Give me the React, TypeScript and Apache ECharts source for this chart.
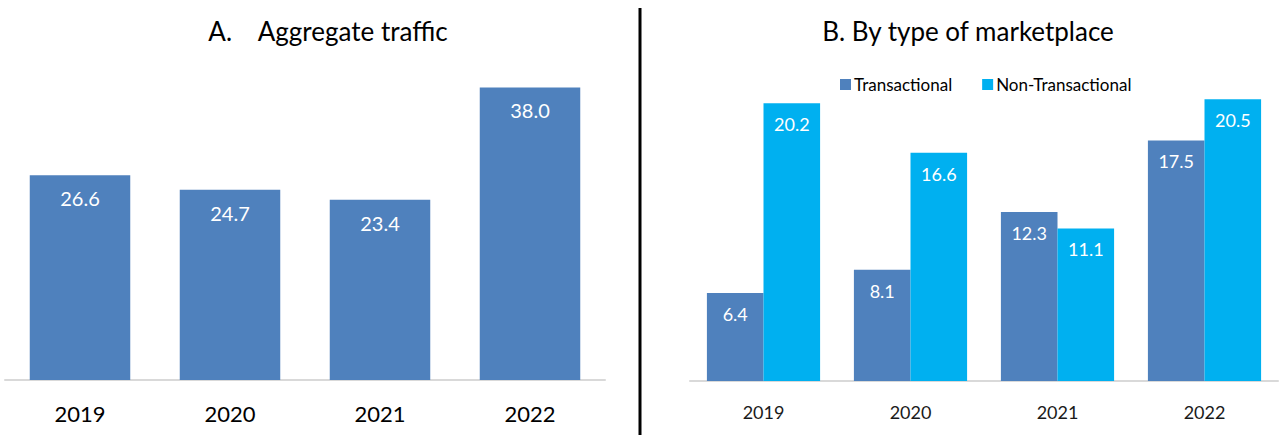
import React, { useEffect, useRef } from "react";
import * as echarts from "echarts";

const years = ["2019", "2020", "2021", "2022"];
const aggregateTraffic = [26.6, 24.7, 23.4, 38.0];
const transactional = [6.4, 8.1, 12.3, 17.5];
const nonTransactional = [20.2, 16.6, 11.1, 20.5];
const titleA = "A.    Aggregate traffic";
const titleB = "B. By type of marketplace";
const seriesNames = ["Transactional", "Non-Transactional"];

const FONT = "Lato, 'Noto Sans', sans-serif";

export default function App() {
  const ref = useRef<HTMLDivElement>(null);
  useEffect(() => {
    if (!ref.current) return;
    const chart = echarts.init(ref.current, null, { renderer: "svg" });
    const fmt = (p: any) => Number(p.value).toFixed(1);
    chart.setOption({
      animation: false,
      textStyle: { fontFamily: FONT },
      title: [
        {
          text: titleA,
          left: 323,
          top: 13,
          textAlign: "center",
          textStyle: { fontFamily: FONT, fontSize: 26, fontWeight: "normal", color: "#000" },
        },
        {
          text: titleB,
          left: 963,
          top: 13,
          textAlign: "center",
          textStyle: { fontFamily: FONT, fontSize: 26, fontWeight: "normal", color: "#000" },
        },
      ],
      legend: {
        data: seriesNames,
        left: 835,
        top: 71,
        icon: "rect",
        itemWidth: 11,
        itemHeight: 11,
        itemGap: 30,
        textStyle: { fontFamily: FONT, fontSize: 17, color: "#000", padding: [0, 0, 0, -2] },
      },
      grid: [
        { left: 5, width: 600, top: 72, bottom: 55 },
        { left: 690, right: 8, top: 37.25, bottom: 54 },
      ],
      xAxis: [
        {
          type: "category",
          gridIndex: 0,
          data: years,
          axisLine: { lineStyle: { color: "#D9D9D9", width: 2 } },
          axisTick: { show: false },
          axisLabel: { fontFamily: FONT, fontSize: 22, color: "#000", margin: 22 },
        },
        {
          type: "category",
          gridIndex: 1,
          data: years,
          axisLine: { lineStyle: { color: "#D9D9D9", width: 2 } },
          axisTick: { show: false },
          axisLabel: { fontFamily: FONT, fontSize: 18, color: "#1a1a1a", margin: 22 },
        },
      ],
      yAxis: [
        { type: "value", gridIndex: 0, min: 0, max: 40, show: false, splitLine: { show: false } },
        { type: "value", gridIndex: 1, min: 0, max: 25, show: false, splitLine: { show: false } },
      ],
      series: [
        {
          type: "bar",
          xAxisIndex: 0,
          yAxisIndex: 0,
          data: aggregateTraffic,
          barCategoryGap: "33%",
          itemStyle: { color: "#4F81BD" },
          label: {
            show: true,
            position: "insideTop",
            distance: 13,
            formatter: fmt,
            color: "#fff",
            fontFamily: FONT,
            fontSize: 20,
          },
        },
        {
          name: seriesNames[0],
          type: "bar",
          xAxisIndex: 1,
          yAxisIndex: 1,
          data: transactional,
          barGap: "0%",
          barCategoryGap: "23%",
          itemStyle: { color: "#4F81BD" },
          label: {
            show: true,
            position: "insideTop",
            distance: 12,
            formatter: fmt,
            color: "#fff",
            fontFamily: FONT,
            fontSize: 18,
          },
        },
        {
          name: seriesNames[1],
          type: "bar",
          xAxisIndex: 1,
          yAxisIndex: 1,
          data: nonTransactional,
          barGap: "0%",
          barCategoryGap: "23%",
          itemStyle: { color: "#00B0F0" },
          label: {
            show: true,
            position: "insideTop",
            distance: 12,
            formatter: fmt,
            color: "#fff",
            fontFamily: FONT,
            fontSize: 18,
          },
        },
      ],
      graphic: [
        {
          type: "line",
          shape: { x1: 640, y1: 8, x2: 640, y2: 435 },
          style: { stroke: "#000", lineWidth: 3 },
          silent: true,
        },
      ],
    });
    return () => chart.dispose();
  }, []);
  return (
    <div
      ref={ref}
      style={{ position: "fixed", left: 0, top: 0, width: 1286, height: 435, background: "#fff" }}
    />
  );
}
